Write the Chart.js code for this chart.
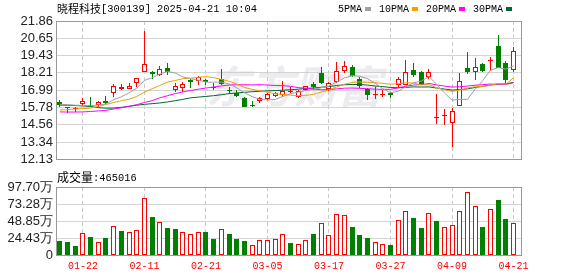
<!DOCTYPE html>
<html>
<head>
<meta charset="utf-8">
<script src="https://cdn.jsdelivr.net/npm/chart.js@4.4.1/dist/chart.umd.min.js"></script>
<style>
  html, body { margin: 0; padding: 0; background: #fff; }
  #wrap { position: relative; width: 578px; height: 276px; }
  #kline { position: absolute; left: 0; top: 0; }
  #vol { position: absolute; left: 0; top: 170px; }
</style>
</head>
<body>
<div id="wrap">
  <canvas id="kline" width="578" height="170"></canvas>
  <canvas id="vol" width="578" height="106"></canvas>
</div>
<script>
//trading days shown (MM-DD)
const dates = ['01-17','01-20','01-21','01-22','01-23','01-24','01-27','02-05','02-06','02-07',
  '02-10','02-11','02-12','02-13','02-14','02-17','02-18','02-19','02-20','02-21',
  '02-24','02-25','02-26','02-27','02-28','03-03','03-04','03-05','03-06','03-07',
  '03-10','03-11','03-12','03-13','03-14','03-17','03-18','03-19','03-20','03-21',
  '03-24','03-25','03-26','03-27','03-28','03-31','04-01','04-02','04-03','04-07',
  '04-08','04-09','04-10','04-11','04-14','04-15','04-16','04-17','04-18','04-21'];

//daily prices
const opens = [16.13,15.75,15.75,16.02,15.98,15.98,16.20,16.79,17.07,17.07,
  17.51,18.29,18.24,18.06,18.58,17.00,17.15,17.68,17.61,17.72,
  17.19,17.76,16.98,16.77,16.45,15.95,16.20,16.36,16.56,16.63,
  16.83,16.50,17.00,17.45,18.17,17.04,17.56,18.31,18.63,17.79,
  17.04,16.70,16.72,16.77,17.34,17.38,18.40,18.24,17.95,15.05,
  15.18,14.69,15.91,18.58,18.29,18.81,19.06,20.12,18.92,18.40];
const highs = [16.27,15.80,15.80,16.47,16.54,16.25,16.61,17.45,17.41,17.47,
  17.85,21.14,18.36,18.70,18.90,17.50,17.56,17.79,18.02,17.79,
  17.47,18.47,17.20,17.00,16.54,16.25,16.54,16.77,16.86,17.61,
  17.22,17.00,17.27,17.56,18.63,17.56,18.97,19.04,18.76,17.90,
  17.11,17.22,17.00,16.86,17.90,19.08,18.92,18.36,18.51,16.70,
  15.64,15.71,18.17,19.67,19.26,18.92,19.31,20.89,19.04,20.01];
const lows = [15.80,15.36,15.45,15.93,15.80,15.84,16.04,16.54,16.99,17.07,
  17.22,18.27,17.79,18.02,18.06,16.85,16.88,17.17,17.34,17.34,
  16.99,17.38,16.77,16.50,15.80,15.80,16.09,16.29,16.50,16.54,
  16.77,16.45,16.95,17.00,17.45,16.95,17.52,18.17,17.95,17.11,
  16.32,16.36,16.54,16.41,17.11,17.34,17.95,17.38,17.79,14.61,
  14.55,12.99,15.86,18.13,17.68,18.24,18.36,18.56,17.51,18.29];
const closes = [15.93,15.77,15.76,16.20,15.86,16.16,16.08,17.29,17.20,17.27,
  17.83,18.83,18.15,18.51,18.24,17.27,17.41,17.58,17.95,17.60,
  17.23,17.45,16.92,16.60,15.83,15.92,16.43,16.70,16.76,16.93,
  16.90,16.95,17.25,17.22,17.49,17.50,18.36,18.70,18.02,17.27,
  16.66,16.73,16.75,16.64,17.79,18.29,18.06,17.38,18.24,15.08,
  15.24,15.52,17.61,18.24,18.63,18.36,19.10,18.58,17.68,19.78];
const prevClose = 16.05; //close of the day before the first bar

//moving averages
const ma5 = [16.00,15.97,15.93,15.92,15.90,15.95,16.01,16.32,16.52,16.80,
  17.13,17.68,17.86,18.12,18.31,18.20,17.92,17.80,17.69,17.56,
  17.55,17.56,17.43,17.16,16.81,16.54,16.34,16.30,16.33,16.55,
  16.74,16.85,16.96,17.05,17.16,17.28,17.56,17.85,18.01,17.97,
  17.80,17.48,17.09,16.81,16.91,17.24,17.51,17.63,17.95,17.41,
  16.80,16.29,16.34,16.34,17.05,17.67,18.39,18.58,18.47,18.70];
const ma10 = [15.59,15.62,15.66,15.69,15.73,15.85,15.98,16.12,16.25,16.35,
  16.54,16.85,17.09,17.32,17.56,17.67,17.80,17.83,17.90,17.94,
  17.88,17.74,17.62,17.43,17.18,17.05,16.95,16.86,16.74,16.68,
  16.64,16.59,16.63,16.69,16.86,17.01,17.21,17.41,17.53,17.57,
  17.54,17.52,17.47,17.41,17.44,17.52,17.49,17.36,17.38,17.16,
  17.02,16.90,16.99,17.15,17.23,17.24,17.34,17.46,17.40,17.87];
const ma20 = [15.46,15.45,15.45,15.46,15.49,15.53,15.57,15.66,15.75,15.86,
  15.97,16.12,16.25,16.45,16.60,16.75,16.87,16.97,17.06,17.14,
  17.21,17.29,17.35,17.37,17.37,17.36,17.38,17.35,17.32,17.31,
  17.26,17.17,17.12,17.06,17.02,17.03,17.08,17.13,17.14,17.12,
  17.09,17.06,17.05,17.05,17.15,17.27,17.35,17.38,17.46,17.36,
  17.28,17.21,17.23,17.28,17.34,17.38,17.42,17.41,17.39,17.52];
const ma30 = [15.94,15.93,15.91,15.88,15.84,15.76,15.72,15.73,15.78,15.85,
  15.93,15.99,16.04,16.09,16.16,16.25,16.34,16.45,16.50,16.55,
  16.60,16.67,16.75,16.79,16.84,16.88,16.91,16.94,16.96,16.99,
  17.02,17.06,17.11,17.14,17.20,17.24,17.32,17.37,17.39,17.39,
  17.35,17.28,17.24,17.18,17.16,17.19,17.22,17.21,17.22,17.14,
  17.07,17.00,17.03,17.08,17.18,17.26,17.35,17.41,17.44,17.53];

//volume in shares
const volumes = [204000,186000,129000,310000,257000,182000,243000,410000,343000,329000,
  358000,825000,544000,467000,386000,372000,324000,296000,324000,329000,
  229000,368000,300000,229000,200000,139000,210000,210000,224000,296000,
  167000,153000,210000,300000,453000,282000,582000,568000,396000,282000,
  239000,182000,153000,139000,496000,639000,525000,382000,597000,482000,
  396000,425000,639000,911000,697000,396000,654000,797000,511000,465016];

//axis ticks
const priceTicks = [12.13,13.34,14.56,15.78,16.99,18.21,19.43,20.65,21.86];
const volTicks = [0,244250,488500,732750,977000];
const volTickLabels = ['0','24.43万','48.85万','73.28万','97.70万'];
const xTickLabels = ['01-22','02-11','02-21','03-05','03-17','03-27','04-09','04-21'];

const title = ['晓程科技', '[300139] 2025-04-21 10:04'];
const maNames = ['5PMA','10PMA','20PMA','30PMA'];
const maColors = ['#a0a0a0','#f0a000','#ff00ff','#006633'];

const red = '#ff0000';
const green = '#008000';
const asciiFont = '"Liberation Mono", monospace';
const cjkFont = '"Noto Sans CJK SC", sans-serif';

Chart.defaults.font.family = '"Liberation Sans", Arial, sans-serif';

const xTickIdx = xTickLabels.map(l => dates.indexOf(l));
const candleUp = opens.map((o, i) => closes[i] >= o);
const volUp = closes.map((c, i) => c >= (i ? closes[i - 1] : prevClose));

//snap bars to whole pixels so the thin borders stay sharp
const crispPlugin = {
  id: 'crisp',
  afterDatasetsUpdate(chart) {
    chart.data.datasets.forEach((ds, di) => {
      const meta = chart.getDatasetMeta(di);
      if (meta.type !== 'bar') return;
      meta.data.forEach(el => {
        let w = Math.round(el.width);
        if (w % 2 === 0) w -= 1;
        el.width = w;
        el.x = Math.floor(el.x) + 0.5;
        el.y = Math.round(el.y);
        el.base = Math.round(el.base);
        if (el.base === el.y) el.base = el.y + 1;
      });
    });
  }
};

//gray frame round the plot
const framePlugin = {
  id: 'frame',
  afterDraw(chart) {
    const a = chart.chartArea, ctx = chart.ctx;
    ctx.save();
    ctx.strokeStyle = '#999';
    ctx.lineWidth = 1;
    ctx.strokeRect(Math.round(a.left) + 0.5, Math.round(a.top) + 0.5,
      Math.round(a.right - a.left) - 1, Math.round(a.bottom - a.top));
    ctx.restore();
  }
};

//title, legend and watermark of the price chart
const headPlugin = {
  id: 'head',
  beforeDatasetsDraw(chart) {
    const ctx = chart.ctx;
    ctx.save();
    ctx.font = 'bold italic 44px ' + cjkFont;
    ctx.fillStyle = 'rgba(200,200,212,0.35)';
    ctx.textAlign = 'center';
    ctx.textBaseline = 'middle';
    ctx.fillText('东方财富', 294, 86);
    ctx.restore();
  },
  afterDraw(chart) {
    const ctx = chart.ctx;
    ctx.save();
    ctx.textBaseline = 'middle';
    ctx.fillStyle = '#000';
    ctx.font = '11px ' + cjkFont;
    ctx.fillText(title[0], 57, 9);
    let x = 57 + ctx.measureText(title[0]).width;
    ctx.font = '10.4px ' + asciiFont;
    ctx.fillText(title[1], x, 9);

    x = 338;
    ctx.font = '10px ' + asciiFont;
    maNames.forEach((n, i) => {
      ctx.fillStyle = '#000';
      ctx.fillText(n, x, 9);
      x += ctx.measureText(n).width + 3;
      ctx.fillStyle = maColors[i];
      ctx.fillRect(x, 7, 6, 4);
      x += 6 + 8;
    });
    ctx.restore();
  }
};

//volume caption
const volHeadPlugin = {
  id: 'volHead',
  afterDraw(chart) {
    const ctx = chart.ctx;
    ctx.save();
    ctx.textBaseline = 'middle';
    ctx.fillStyle = '#000';
    ctx.font = '12px ' + cjkFont;
    ctx.fillText('成交量', 57, 7.5);
    const x = 57 + ctx.measureText('成交量').width;
    ctx.font = '10.4px ' + asciiFont;
    ctx.fillText(':' + volumes[volumes.length - 1], x, 8);
    ctx.restore();
  }
};

function xScale(showLabels) {
  return {
    type: 'linear',
    min: -0.5,
    max: 60.1,
    offset: false,
    afterBuildTicks: s => { s.ticks = xTickIdx.map(v => ({ value: v })); },
    afterFit: s => { s.height = showLabels ? 21 : 0; },
    ticks: {
      display: showLabels,
      autoSkip: false,
      maxRotation: 0,
      padding: 5,
      color: red,
      font: { family: asciiFont, size: 10 },
      callback: v => dates[v]
    },
    grid: { offset: false, color: '#c8c8c8', drawTicks: false },
    border: { display: false, dash: [4, 3] }
  };
}

//price chart
new Chart(document.getElementById('kline'), {
  type: 'bar',
  data: {
    datasets: [
      {
        type: 'line', data: ma5.map((v, i) => ({ x: i, y: v })),
        borderColor: maColors[0], borderWidth: 1, pointRadius: 0, tension: 0, order: 0
      },
      {
        type: 'line', data: ma10.map((v, i) => ({ x: i, y: v })),
        borderColor: maColors[1], borderWidth: 1, pointRadius: 0, tension: 0, order: 0
      },
      {
        type: 'line', data: ma20.map((v, i) => ({ x: i, y: v })),
        borderColor: maColors[2], borderWidth: 1, pointRadius: 0, tension: 0, order: 0
      },
      {
        type: 'line', data: ma30.map((v, i) => ({ x: i, y: v })),
        borderColor: maColors[3], borderWidth: 1, pointRadius: 0, tension: 0, order: 0
      },
      {
        //candle bodies
        data: opens.map((o, i) => ({ x: i, y: [o, closes[i]] })),
        backgroundColor: c => candleUp[c.dataIndex] ? '#ffffff' : green,
        borderColor: c => candleUp[c.dataIndex] ? red : green,
        borderWidth: 1,
        borderSkipped: false,
        inflateAmount: 0,
        barPercentage: 0.68,
        categoryPercentage: 1,
        grouped: false,
        order: 1
      },
      {
        //wicks
        data: lows.map((l, i) => ({ x: i, y: [l, highs[i]] })),
        backgroundColor: c => candleUp[c.dataIndex] ? red : green,
        borderWidth: 0,
        barThickness: 1,
        inflateAmount: 0,
        grouped: false,
        order: 2
      }
    ]
  },
  options: {
    responsive: false,
    animation: false,
    layout: { padding: { top: 21, right: 56, bottom: 5, left: 0 } },
    plugins: { legend: { display: false }, tooltip: { enabled: false } },
    scales: {
      x: xScale(false),
      y: {
        min: priceTicks[0],
        max: priceTicks[priceTicks.length - 1],
        afterBuildTicks: s => { s.ticks = priceTicks.map(v => ({ value: v })); },
        afterFit: s => { s.width = 56; },
        ticks: {
          autoSkip: false,
          padding: 3,
          color: '#222',
          font: { size: 13 },
          callback: v => v.toFixed(2)
        },
        grid: { color: '#d4d4d4', drawTicks: false },
        border: { display: false }
      }
    }
  },
  plugins: [crispPlugin, headPlugin, framePlugin]
});

//volume chart
new Chart(document.getElementById('vol'), {
  type: 'bar',
  data: {
    datasets: [{
      data: volumes.map((v, i) => ({ x: i, y: v })),
      backgroundColor: c => volUp[c.dataIndex] ? '#ffffff' : green,
      borderColor: c => volUp[c.dataIndex] ? red : green,
      borderWidth: 1,
      borderSkipped: false,
      inflateAmount: 0,
      barPercentage: 0.68,
      categoryPercentage: 1
    }]
  },
  options: {
    responsive: false,
    animation: false,
    layout: { padding: { top: 17, right: 56, bottom: 0, left: 0 } },
    plugins: { legend: { display: false }, tooltip: { enabled: false } },
    scales: {
      x: xScale(true),
      y: {
        min: 0,
        max: volTicks[volTicks.length - 1],
        afterBuildTicks: s => { s.ticks = volTicks.map(v => ({ value: v })); },
        afterFit: s => { s.width = 56; },
        ticks: {
          autoSkip: false,
          padding: 3,
          color: '#222',
          font: { size: 13 },
          callback: (v, i) => volTickLabels[i]
        },
        grid: { color: '#d4d4d4', drawTicks: false },
        border: { display: false }
      }
    }
  },
  plugins: [crispPlugin, volHeadPlugin, framePlugin]
});
</script>
</body>
</html>
